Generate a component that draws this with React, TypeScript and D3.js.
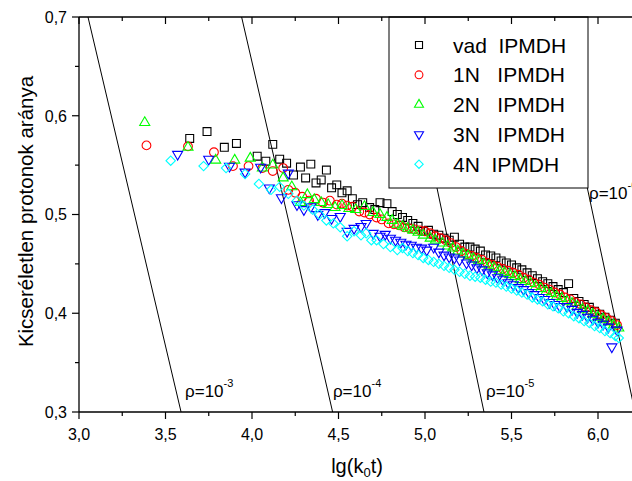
import React from 'react';
import * as d3 from 'd3';

// ---------- data ----------
const vadX = [3.64, 3.74, 3.84, 3.91, 4.03, 4.08, 4.12, 4.16, 4.20, 4.24, 4.28, 4.31, 4.34, 4.37, 4.40, 4.43, 4.46, 4.49, 4.52, 4.55, 4.58, 4.61, 4.64, 4.68, 4.71, 4.74, 4.78, 4.81, 4.84, 4.87, 4.90, 4.93, 4.96, 4.99, 5.02, 5.05, 5.08, 5.11, 5.14, 5.17, 5.20, 5.23, 5.26, 5.29, 5.32, 5.35, 5.38, 5.41, 5.44, 5.47, 5.50, 5.53, 5.56, 5.59, 5.62, 5.65, 5.68, 5.71, 5.74, 5.77, 5.80, 5.83, 5.86, 5.89, 5.92, 5.95, 5.98, 6.01, 6.04, 6.07, 6.10];
const vadY = [0.577, 0.584, 0.568, 0.572, 0.559, 0.554, 0.571, 0.556, 0.552, 0.540, 0.548, 0.537, 0.551, 0.532, 0.535, 0.545, 0.527, 0.530, 0.522, 0.524, 0.516, 0.510, 0.512, 0.507, 0.505, 0.512, 0.511, 0.503, 0.500, 0.497, 0.494, 0.491, 0.488, 0.483, 0.484, 0.480, 0.479, 0.476, 0.474, 0.477, 0.470, 0.467, 0.467, 0.465, 0.463, 0.459, 0.458, 0.456, 0.453, 0.451, 0.449, 0.446, 0.444, 0.441, 0.438, 0.435, 0.432, 0.430, 0.427, 0.424, 0.421, 0.430, 0.415, 0.412, 0.409, 0.406, 0.402, 0.399, 0.396, 0.393, 0.390];

const n1X = [3.39, 3.63, 3.78, 3.89, 3.98, 4.06, 4.12, 4.18, 4.21, 4.25, 4.29, 4.33, 4.37, 4.41, 4.45, 4.49, 4.52, 4.55, 4.58, 4.62, 4.65, 4.68, 4.72, 4.75, 4.79, 4.82, 4.85, 4.88, 4.91, 4.94, 4.97, 5.00, 5.03, 5.06, 5.09, 5.12, 5.15, 5.18, 5.21, 5.24, 5.27, 5.30, 5.33, 5.36, 5.39, 5.42, 5.45, 5.48, 5.51, 5.54, 5.57, 5.60, 5.63, 5.66, 5.69, 5.72, 5.75, 5.78, 5.81, 5.84, 5.87, 5.90, 5.93, 5.96, 5.99, 6.02, 6.05, 6.08, 6.11];
const n1Y = [0.570, 0.569, 0.563, 0.549, 0.549, 0.547, 0.544, 0.547, 0.525, 0.522, 0.518, 0.514, 0.516, 0.512, 0.514, 0.510, 0.511, 0.509, 0.508, 0.503, 0.502, 0.500, 0.497, 0.495, 0.491, 0.490, 0.489, 0.487, 0.486, 0.485, 0.484, 0.483, 0.481, 0.478, 0.476, 0.474, 0.471, 0.467, 0.463, 0.460, 0.458, 0.456, 0.454, 0.451, 0.449, 0.447, 0.445, 0.443, 0.441, 0.439, 0.436, 0.434, 0.431, 0.429, 0.426, 0.424, 0.421, 0.419, 0.416, 0.414, 0.411, 0.409, 0.406, 0.403, 0.401, 0.398, 0.395, 0.392, 0.388];

const n2X = [3.38, 3.63, 3.79, 3.90, 3.99, 4.06, 4.12, 4.18, 4.23, 4.28, 4.32, 4.36, 4.40, 4.44, 4.48, 4.52, 4.56, 4.60, 4.65, 4.70, 4.74, 4.78, 4.81, 4.84, 4.87, 4.90, 4.93, 4.96, 4.99, 5.03, 5.06, 5.10, 5.13, 5.16, 5.19, 5.22, 5.25, 5.28, 5.31, 5.34, 5.37, 5.40, 5.43, 5.46, 5.49, 5.52, 5.55, 5.58, 5.61, 5.64, 5.67, 5.70, 5.73, 5.76, 5.79, 5.82, 5.85, 5.88, 5.91, 5.94, 5.97, 6.00, 6.03, 6.06, 6.09, 6.12];
const n2Y = [0.593, 0.568, 0.555, 0.555, 0.557, 0.547, 0.550, 0.537, 0.528, 0.512, 0.520, 0.515, 0.512, 0.510, 0.507, 0.509, 0.506, 0.505, 0.508, 0.502, 0.500, 0.497, 0.494, 0.490, 0.488, 0.486, 0.484, 0.482, 0.479, 0.476, 0.474, 0.471, 0.468, 0.466, 0.463, 0.460, 0.458, 0.455, 0.453, 0.450, 0.448, 0.446, 0.443, 0.441, 0.439, 0.437, 0.434, 0.432, 0.430, 0.427, 0.425, 0.422, 0.420, 0.417, 0.415, 0.412, 0.410, 0.407, 0.404, 0.402, 0.399, 0.396, 0.394, 0.391, 0.388, 0.385];

const n3X = [3.57, 3.75, 3.87, 3.96, 4.05, 4.10, 4.17, 4.21, 4.26, 4.30, 4.34, 4.38, 4.42, 4.46, 4.51, 4.55, 4.59, 4.63, 4.66, 4.70, 4.74, 4.77, 4.80, 4.83, 4.86, 4.89, 4.92, 4.95, 4.98, 5.01, 5.05, 5.08, 5.11, 5.14, 5.17, 5.20, 5.24, 5.27, 5.30, 5.33, 5.36, 5.39, 5.42, 5.45, 5.48, 5.51, 5.54, 5.57, 5.60, 5.63, 5.66, 5.69, 5.72, 5.75, 5.78, 5.82, 5.85, 5.88, 5.91, 5.94, 5.97, 6.00, 6.03, 6.06, 6.08, 6.11];
const n3Y = [0.561, 0.556, 0.549, 0.543, 0.548, 0.527, 0.517, 0.542, 0.510, 0.505, 0.508, 0.500, 0.502, 0.496, 0.498, 0.483, 0.486, 0.488, 0.491, 0.481, 0.478, 0.480, 0.476, 0.474, 0.472, 0.470, 0.469, 0.467, 0.466, 0.464, 0.467, 0.462, 0.459, 0.457, 0.456, 0.454, 0.451, 0.449, 0.446, 0.444, 0.441, 0.439, 0.436, 0.434, 0.431, 0.429, 0.426, 0.424, 0.421, 0.419, 0.416, 0.414, 0.411, 0.409, 0.407, 0.407, 0.404, 0.401, 0.399, 0.396, 0.394, 0.391, 0.389, 0.386, 0.366, 0.383];

const n4X = [3.53, 3.72, 3.85, 3.96, 4.04, 4.11, 4.16, 4.21, 4.26, 4.30, 4.35, 4.39, 4.43, 4.47, 4.51, 4.55, 4.59, 4.63, 4.66, 4.69, 4.72, 4.76, 4.80, 4.84, 4.87, 4.90, 4.93, 4.96, 4.99, 5.02, 5.05, 5.08, 5.11, 5.14, 5.17, 5.20, 5.23, 5.26, 5.29, 5.32, 5.35, 5.38, 5.41, 5.44, 5.47, 5.50, 5.53, 5.56, 5.59, 5.62, 5.65, 5.68, 5.71, 5.74, 5.77, 5.80, 5.83, 5.86, 5.89, 5.92, 5.95, 5.98, 6.01, 6.04, 6.07, 6.10, 6.12];
const n4Y = [0.5545, 0.549, 0.547, 0.541, 0.531, 0.525, 0.528, 0.521, 0.514, 0.509, 0.505, 0.500, 0.494, 0.491, 0.487, 0.478, 0.483, 0.479, 0.481, 0.474, 0.474, 0.470, 0.467, 0.464, 0.466, 0.463, 0.461, 0.459, 0.456, 0.454, 0.452, 0.450, 0.448, 0.446, 0.444, 0.442, 0.440, 0.438, 0.437, 0.436, 0.434, 0.432, 0.431, 0.429, 0.427, 0.425, 0.423, 0.421, 0.419, 0.416, 0.414, 0.412, 0.409, 0.407, 0.405, 0.402, 0.400, 0.397, 0.395, 0.392, 0.390, 0.387, 0.385, 0.382, 0.380, 0.377, 0.375];

const seriesNames = ['vad  IPMDH', '1N   IPMDH', '2N   IPMDH', '3N   IPMDH', '4N  IPMDH'];
const seriesColors = ['#000000', '#ff0000', '#00ff00', '#0000ff', '#00ffff'];
const seriesSymbols = ['square', 'circle', 'triangleUp', 'triangleDown', 'diamond'];
const seriesXs = [vadX, n1X, n2X, n3X, n4X];
const seriesYs = [vadY, n1Y, n2Y, n3Y, n4Y];

// constant-rho guide lines: x at y=0.7 (top) and y=0.3 (bottom)
const rhoExponents = ['-3', '-4', '-5', '-6'];
const rhoTopX = [3.052, 3.94, 4.862, 5.728];
const rhoBottomX = [3.59, 4.466, 5.341, 6.214];
const rhoLabelX = [3.613, 4.468, 5.353, 5.948];
const rhoLabelY = [0.315, 0.315, 0.315, 0.516];

const xMajorTicks = [3.0, 3.5, 4.0, 4.5, 5.0, 5.5, 6.0];
const xMinorTicks = [3.25, 3.75, 4.25, 4.75, 5.25, 5.75];
const yMajorTicks = [0.3, 0.4, 0.5, 0.6, 0.7];
const yMinorTicks = [0.35, 0.45, 0.55, 0.65];

const xTitle = 'lg(k';
const yTitle = 'Kicseréletlen protonok aránya';

// ---------- layout ----------
const W = 632;
const H = 481;
const L = 79;
const T = 17;
const B = 412;
const R = 632.6;
const FONT = "Arial, 'Liberation Sans', sans-serif";

const x = d3.scaleLinear().domain([3, 6.2]).range([L, R]);
const y = d3.scaleLinear().domain([0.3, 0.7]).range([B, T]);

function symbolPath(kind: string, scale = 1): { d: string; rot: number } {
  switch (kind) {
    case 'square':
      return { d: d3.symbol(d3.symbolSquare, 62 * scale)() as string, rot: 0 };
    case 'circle':
      return { d: d3.symbol(d3.symbolCircle, 60 * scale)() as string, rot: 0 };
    case 'triangleUp':
      return { d: d3.symbol(d3.symbolTriangle, 44 * scale)() as string, rot: 0 };
    case 'triangleDown':
      return { d: d3.symbol(d3.symbolTriangle, 44 * scale)() as string, rot: 180 };
    default:
      return { d: d3.symbol(d3.symbolSquare, 44 * scale)() as string, rot: 45 };
  }
}

const fmt = (v: number) => d3.format('.1f')(v).replace('.', ',');

export default function App() {
  const legendLeft = 389;
  const legendRight = 588;
  const legendBottom = 188;

  return (
    <svg
      width={W}
      height={H}
      style={{ position: 'absolute', left: 0, top: 0, background: '#fff' }}
      fontFamily={FONT}
    >
      <defs>
        <clipPath id="plot">
          <rect x={L} y={T} width={R - L} height={B - T} />
        </clipPath>
      </defs>
      <rect x={0} y={0} width={W} height={H} fill="#fff" />

      {/* rho guide lines */}
      <g clipPath="url(#plot)">
        {rhoExponents.map((e, i) => (
          <line
            key={e}
            x1={x(rhoTopX[i])}
            y1={y(0.7)}
            x2={x(rhoBottomX[i])}
            y2={y(0.3)}
            stroke="#000"
            strokeWidth={1}
          />
        ))}
      </g>

      {/* data */}
      <g clipPath="url(#plot)">
        {seriesXs.map((xs, s) => {
          const sym = symbolPath(seriesSymbols[s]);
          return (
            <g key={s}>
              {xs.map((xv, i) => (
                <path
                  key={i}
                  d={sym.d}
                  transform={`translate(${x(xv)},${y(seriesYs[s][i])}) rotate(${sym.rot})`}
                  fill="none"
                  stroke={seriesColors[s]}
                  strokeWidth={1.1}
                />
              ))}
            </g>
          );
        })}
      </g>

      {/* legend */}
      <rect
        x={legendLeft}
        y={T}
        width={legendRight - legendLeft}
        height={legendBottom - T}
        fill="#fff"
        stroke="#000"
        strokeWidth={1}
      />
      {seriesNames.map((name, i) => {
        const ry = T + 28 + i * 29.8;
        const sym = symbolPath(seriesSymbols[i], 0.8);
        return (
          <g key={name}>
            <path
              d={sym.d}
              transform={`translate(419,${ry}) rotate(${sym.rot})`}
              fill="none"
              stroke={seriesColors[i]}
              strokeWidth={1.1}
            />
            <text x={453} y={ry + 7.5} fontSize={21} fill="#000" style={{ whiteSpace: 'pre' }}>
              {name}
            </text>
          </g>
        );
      })}

      {/* rho labels */}
      {rhoExponents.map((e, i) => (
        <text key={e} x={x(rhoLabelX[i])} y={y(rhoLabelY[i])} fontSize={17} fill="#000">
          ρ=10
          <tspan fontSize={11} dy={-10}>
            {e}
          </tspan>
        </text>
      ))}

      {/* frame */}
      <line x1={L} y1={B} x2={W} y2={B} stroke="#000" strokeWidth={1.3} />
      <line x1={L} y1={T} x2={W} y2={T} stroke="#000" strokeWidth={1.3} />
      <line x1={L} y1={T} x2={L} y2={B} stroke="#000" strokeWidth={1.3} />

      {/* x ticks */}
      {xMajorTicks.map((t) => (
        <g key={'xm' + t}>
          <line x1={x(t)} y1={B} x2={x(t)} y2={B + 7} stroke="#000" strokeWidth={1.2} />
          <line x1={x(t)} y1={T} x2={x(t)} y2={T + 7} stroke="#000" strokeWidth={1.2} />
          <text x={x(t)} y={440} fontSize={16} textAnchor="middle" fill="#000">
            {fmt(t)}
          </text>
        </g>
      ))}
      {xMinorTicks.map((t) => (
        <g key={'xn' + t}>
          <line x1={x(t)} y1={B} x2={x(t)} y2={B + 4} stroke="#000" strokeWidth={1.2} />
          <line x1={x(t)} y1={T} x2={x(t)} y2={T + 4} stroke="#000" strokeWidth={1.2} />
        </g>
      ))}

      {/* y ticks */}
      {yMajorTicks.map((t) => (
        <g key={'ym' + t}>
          <line x1={L - 7} y1={y(t)} x2={L} y2={y(t)} stroke="#000" strokeWidth={1.2} />
          <text x={67} y={y(t) + 5.8} fontSize={16} textAnchor="end" fill="#000">
            {fmt(t)}
          </text>
        </g>
      ))}
      {yMinorTicks.map((t) => (
        <line key={'yn' + t} x1={L - 4} y1={y(t)} x2={L} y2={y(t)} stroke="#000" strokeWidth={1.2} />
      ))}

      {/* axis titles */}
      <text x={357} y={473} fontSize={20} textAnchor="middle" fill="#000">
        {xTitle}
        <tspan fontSize={13} dy={4}>0</tspan>
        <tspan dy={-4}>t)</tspan>
      </text>
      <text
        transform={`translate(33,${(T + B) / 2 - 3}) rotate(-90)`}
        fontSize={20.5}
        textAnchor="middle"
        fill="#000"
      >
        {yTitle}
      </text>
    </svg>
  );
}
